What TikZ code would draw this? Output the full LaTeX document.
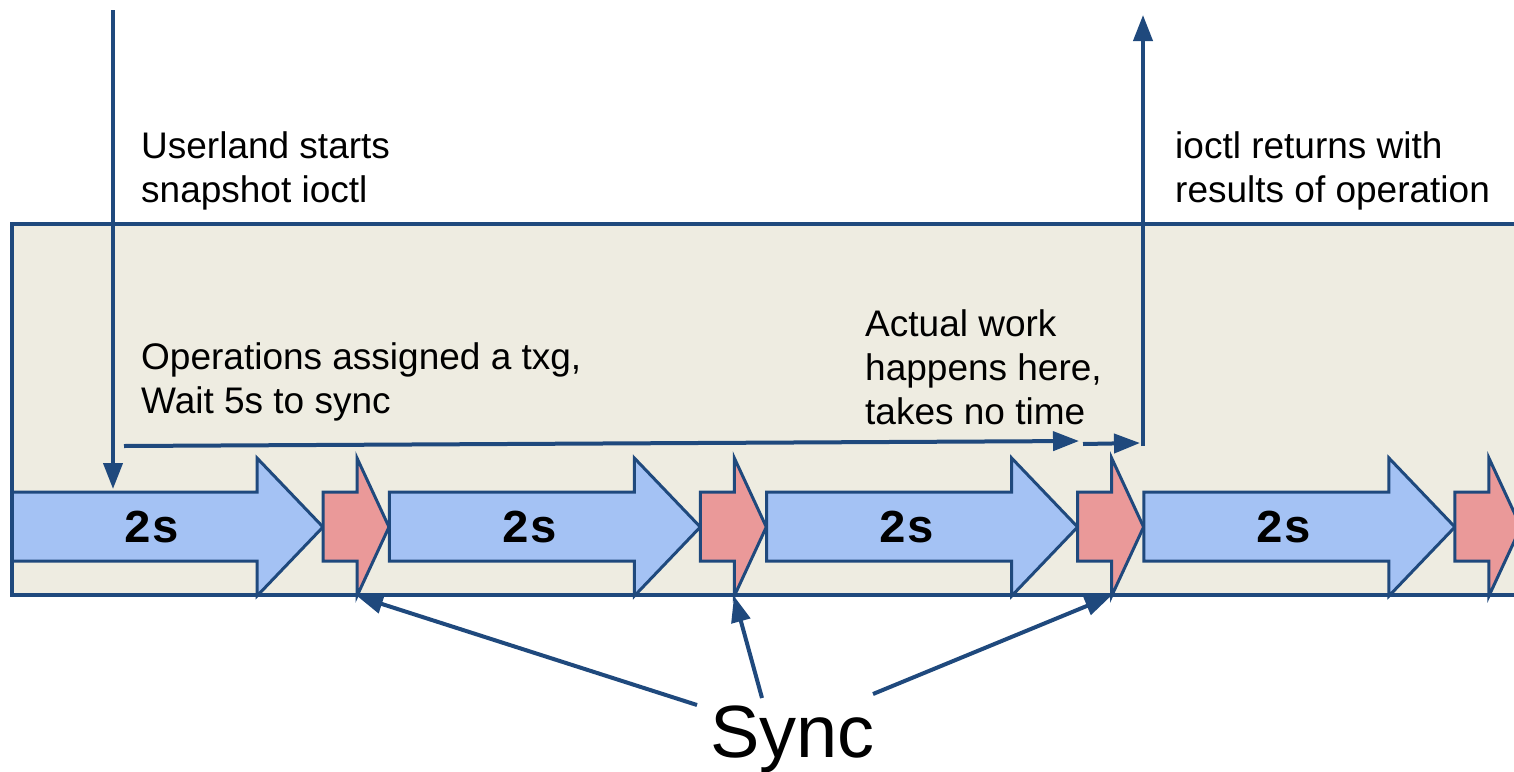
\documentclass[tikz,border=0pt]{standalone}
\usepackage{fontspec}
\setmainfont{Liberation Sans}
\newfontfamily\monofam{Liberation Mono}
\usetikzlibrary{arrows.meta}
\definecolor{lineblue}{HTML}{1F497D}
\definecolor{bluefill}{HTML}{A4C2F4}
\definecolor{redfill}{HTML}{EA9999}
\definecolor{bgtan}{HTML}{EEECE1}
\begin{document}
\begin{tikzpicture}[x=1pt,y=-1pt,
  conn/.style={draw=lineblue, line width=4pt, -{Triangle[length=26pt,width=19pt]}},
  txt/.style={font=\fontsize{37}{44}\selectfont, align=left, inner sep=0pt, anchor=base west},
  bluearr/.style={fill=bluefill, draw=lineblue, line width=3pt},
  redarr/.style={fill=redfill, draw=lineblue, line width=3pt},
  frame/.style={draw=lineblue, line width=4pt},
  dur/.style={font=\monofam\bfseries\fontsize{47}{47}\selectfont, inner sep=0pt}]
\useasboundingbox (0,0) rectangle (1514,771);
\clip (0,0) rectangle (1514,771);
\fill[white] (0,0) rectangle (1514,771);
% background band
\fill[bgtan] (12,224) rectangle (1530,595);
\draw[frame] (12,224) rectangle (1530,595);
% timeline arrows
\foreach \k in {0,1,2,3} {
  \pgfmathsetmacro\s{12+377.3*\k}
  \draw[bluearr] (\s,492) -- ++(245,0) -- ++(0,-34) -- ++(66,69) -- ++(-66,69) -- ++(0,-35) -- ++(-245,0) -- cycle;
  \draw[redarr] (\s+311,492) -- ++(34,0) -- ++(0,-34) -- ++(32,69) -- ++(-32,69) -- ++(0,-35) -- ++(-34,0) -- cycle;
  \node[dur] (d\k) at (\s+140,527) {2s};
}
\draw[frame] (12,224) rectangle (1530,595);
% texts (anchored at the baseline of their last line)
\node[txt] (userland) at (141,202) {Userland starts\\snapshot ioctl};
\node[txt] (returns) at (1175,202) {ioctl returns with\\results of operation};
\node[txt] (ops) at (141,413) {Operations assigned a txg,\\Wait 5s to sync};
\node[txt] (work) at (865,424) {Actual work\\happens here,\\takes no time};
\node[font=\fontsize{74}{74}\selectfont, inner sep=0pt, anchor=base west] (sync) at (710,757) {Sync};
% connector ends
\coordinate (start0) at (113,10);
\coordinate (start1) at (113,489);
\coordinate (wait0) at (124,446);
\coordinate (wait1) at (1079,441);
\coordinate (work0) at (1083,444);
\coordinate (work1) at (1140,443);
\coordinate (ret0) at (1143,446);
\coordinate (ret1) at (1143,15);
\coordinate (s1a) at (697,705);
\coordinate (s1b) at (357,596);
\coordinate (s2a) at (762,698);
\coordinate (s2b) at (734,596);
\coordinate (s3a) at (873,694);
\coordinate (s3b) at (1111,596);
% connectors
\draw[conn] (start0) -- (start1);
\draw[conn] (wait0) -- (wait1);
\draw[conn] (work0) -- (work1);
\draw[conn] (ret0) -- (ret1);
\draw[conn] (s1a) -- (s1b);
\draw[conn] (s2a) -- (s2b);
\draw[conn] (s3a) -- (s3b);
\end{tikzpicture}
\end{document}
